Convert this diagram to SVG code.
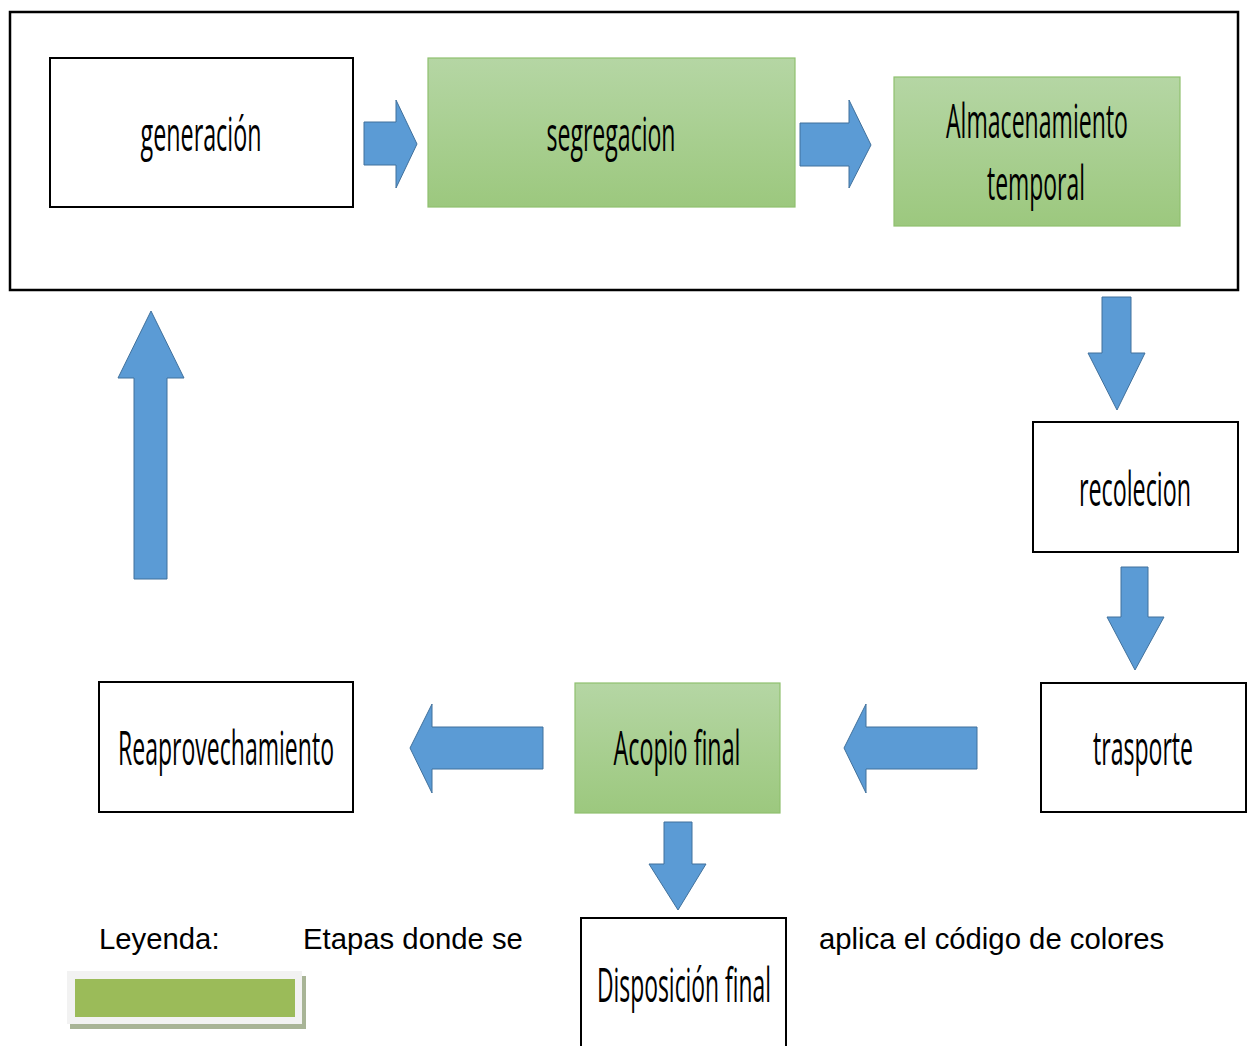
<svg xmlns="http://www.w3.org/2000/svg" width="1247" height="1046" viewBox="0 0 1247 1046">
<defs>
<linearGradient id="g" x1="0" y1="0" x2="0" y2="1">
<stop offset="0" stop-color="#b5d6a4"/>
<stop offset="1" stop-color="#9cc87e"/>
</linearGradient>
<style>
.box{fill:#fff;stroke:#000;stroke-width:2}
.gbox{fill:url(#g);stroke:#8fc06f;stroke-width:1.2}
.lbl{font-family:"Open Sans","Liberation Sans",sans-serif;font-size:48px;fill:#000;text-anchor:middle}
.arr{fill:#5b9bd5;stroke:#41719c;stroke-width:1}
.leg{font-family:"Liberation Sans",Arial,sans-serif;font-size:29.3px;fill:#000}
</style>
</defs>
<rect width="1247" height="1046" fill="#fff"/>
<rect x="10" y="12" width="1228" height="278" fill="none" stroke="#000" stroke-width="2.5"/>

<g id="connectors">
<polygon class="arr" points="364,122 396,122 396,100 417,144 396,188 396,165 364,165"/>
<polygon class="arr" points="800,123 849,123 849,100 871,145 849,188 849,166 800,166"/>
<polygon class="arr" points="1102,297 1131,297 1131,353 1145,353 1117,410 1088,353 1102,353"/>
<polygon class="arr" points="1121,567 1148,567 1148,617 1164,617 1135,670 1107,617 1121,617"/>
<polygon class="arr" points="977,727 866,727 866,704 844,748 866,793 866,769 977,769"/>
<polygon class="arr" points="543,727 432,727 432,704 410,748 432,793 432,769 543,769"/>
<polygon class="arr" points="664,822 692,822 692,864 706,864 678,910 649,864 664,864"/>
<polygon class="arr" points="134,579 167,579 167,378 184,378 151,311 118,378 134,378"/>
</g>

<g id="generacion">
<rect class="box" x="50" y="58" width="303" height="149"/>
<text class="lbl" x="201" y="151" textLength="121" lengthAdjust="spacingAndGlyphs">generación</text>
</g>
<g id="segregacion">
<rect class="gbox" x="428" y="58" width="367" height="149"/>
<text class="lbl" x="611" y="151" textLength="129" lengthAdjust="spacingAndGlyphs">segregacion</text>
</g>
<g id="almacenamiento">
<rect class="gbox" x="894" y="77" width="286" height="149"/>
<text class="lbl" x="1037" y="138" textLength="182" lengthAdjust="spacingAndGlyphs">Almacenamiento</text>
<text class="lbl" x="1036" y="200" textLength="98" lengthAdjust="spacingAndGlyphs">temporal</text>
</g>
<g id="recolecion">
<rect class="box" x="1033" y="422" width="205" height="130"/>
<text class="lbl" x="1135" y="506" textLength="112" lengthAdjust="spacingAndGlyphs">recolecion</text>
</g>
<g id="trasporte">
<rect class="box" x="1041" y="683" width="205" height="129"/>
<text class="lbl" x="1143" y="765" textLength="100" lengthAdjust="spacingAndGlyphs">trasporte</text>
</g>
<g id="acopio">
<rect class="gbox" x="575" y="683" width="205" height="130"/>
<text class="lbl" x="677" y="765" textLength="127" lengthAdjust="spacingAndGlyphs">Acopio final</text>
</g>
<g id="reaprovechamiento">
<rect class="box" x="99" y="682" width="254" height="130"/>
<text class="lbl" x="226" y="765" textLength="216" lengthAdjust="spacingAndGlyphs">Reaprovechamiento</text>
</g>
<g id="disposicion">
<rect class="box" x="581" y="918" width="205" height="140"/>
<text class="lbl" x="684" y="1002" textLength="174" lengthAdjust="spacingAndGlyphs">Disposición final</text>
</g>

<g id="legend">
<text class="leg" x="99" y="949">Leyenda:</text>
<text class="leg" x="303" y="949">Etapas donde se</text>
<text class="leg" x="819" y="949">aplica el código de colores</text>
<rect x="70" y="976" width="236" height="53" fill="#a8b496"/>
<rect x="67" y="971" width="235" height="53" fill="#f2f2f2"/>
<rect x="75" y="979" width="220" height="38" fill="#9bbb59"/>
</g>
</svg>
